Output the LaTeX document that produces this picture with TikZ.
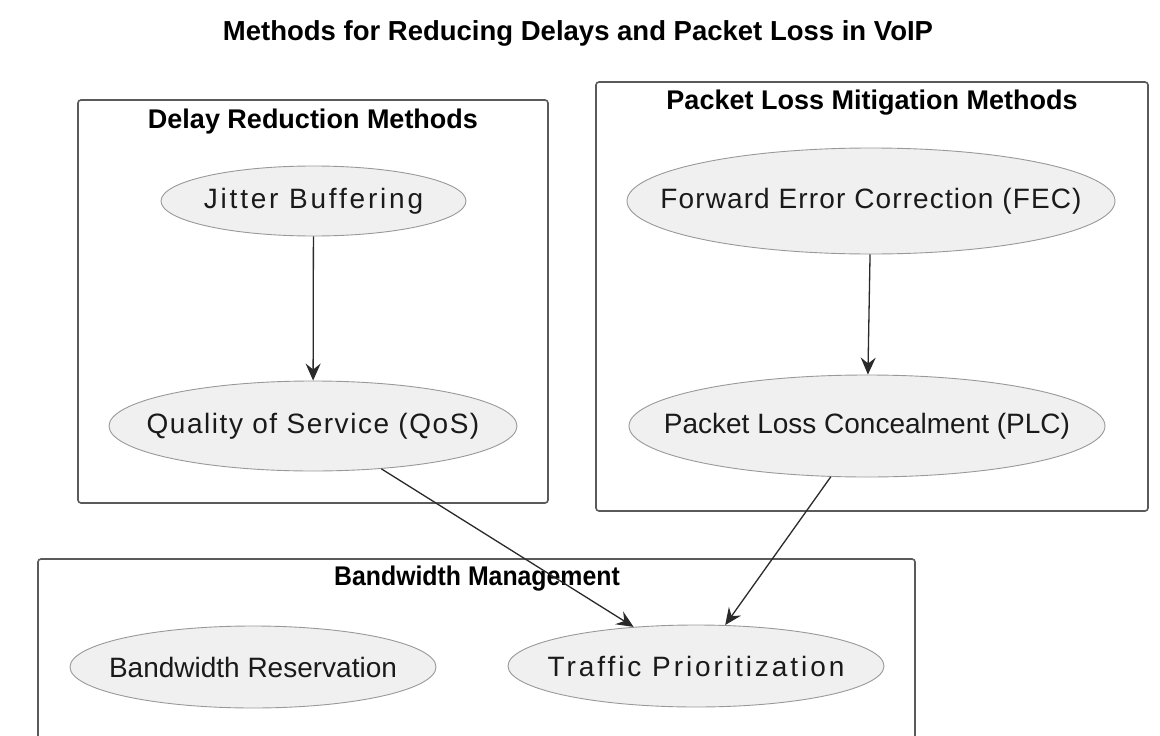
\documentclass[tikz,border=0pt]{standalone}
\usepackage{fontspec}
\setmainfont{Liberation Sans}
\usetikzlibrary{shapes.geometric,arrows.meta}
\definecolor{boxline}{HTML}{5A5A5A}
\definecolor{ellline}{HTML}{999999}
\definecolor{ellfill}{HTML}{F0F0F0}
\definecolor{edgecol}{HTML}{2A2A2A}
\definecolor{txt}{HTML}{1A1A1A}
\newcommand{\lspaced}[2]{\makebox[0pt]{\addfontfeature{LetterSpace=#1}#2}}
\tikzset{
  cluster/.style={draw=boxline, line width=1.6pt, rounded corners=3pt},
  clabel/.style={font=\fontsize{27}{30}\selectfont\bfseries, text=black, inner sep=0pt},
  meth/.style={ellipse, draw=ellline, line width=0.9pt, fill=ellfill, inner sep=0pt,
    text=txt, font=\fontsize{28}{32}\selectfont},
  conn/.style={draw=edgecol, line width=1.3pt, -{Stealth[length=17pt,width=15pt,inset=6pt]}}
}
\begin{document}
\begin{tikzpicture}[x=1pt,y=-1pt]
\clip (0,0) rectangle (1160,736);
\fill[white] (0,0) rectangle (1160,736);
% title
\node[font=\fontsize{27.5}{30}\selectfont\bfseries, inner sep=0pt] (title) at (578,33) {Methods for Reducing Delays and Packet Loss in VoIP};
% clusters
\draw[cluster] (78,100) rectangle (548,503);
\node[clabel] (ldelay) at (313,122) {Delay Reduction Methods};
\draw[cluster] (596,82) rectangle (1148,511);
\node[clabel] (lpacket) at (872,103) {Packet Loss Mitigation Methods};
\draw[cluster] (38,559) rectangle (915,780);
\node[clabel] (lband) at (477,579) {\scalebox{0.92}[1]{Bandwidth Management}};
% nodes
\node[meth, minimum width=305pt, minimum height=70pt] (jit) at (313.5,201) {\lspaced{10}{Jitter Buffering}};
\node[meth, minimum width=408pt, minimum height=90pt] (qos) at (313,426) {\lspaced{5.5}{Quality of Service (QoS)}};
\node[meth, minimum width=488pt, minimum height=106pt] (fec) at (871,201) {\lspaced{4}{Forward Error Correction (FEC)}};
\node[meth, minimum width=476pt, minimum height=102pt] (plc) at (867,426) {\lspaced{0}{Packet Loss Concealment (PLC)}};
\node[meth, minimum width=366pt, minimum height=82pt] (bres) at (253,667) {\lspaced{0}{Bandwidth Reservation}};
\node[meth, minimum width=376pt, minimum height=82pt] (tp) at (696,666) {\lspaced{10.5}{Traffic Prioritization}};
% edges
\draw[conn] (jit) -- (qos);
\draw[conn] (fec) -- (plc);
\draw[conn] (qos) -- (tp);
\draw[conn] (plc) -- (tp);
\end{tikzpicture}
\end{document}
